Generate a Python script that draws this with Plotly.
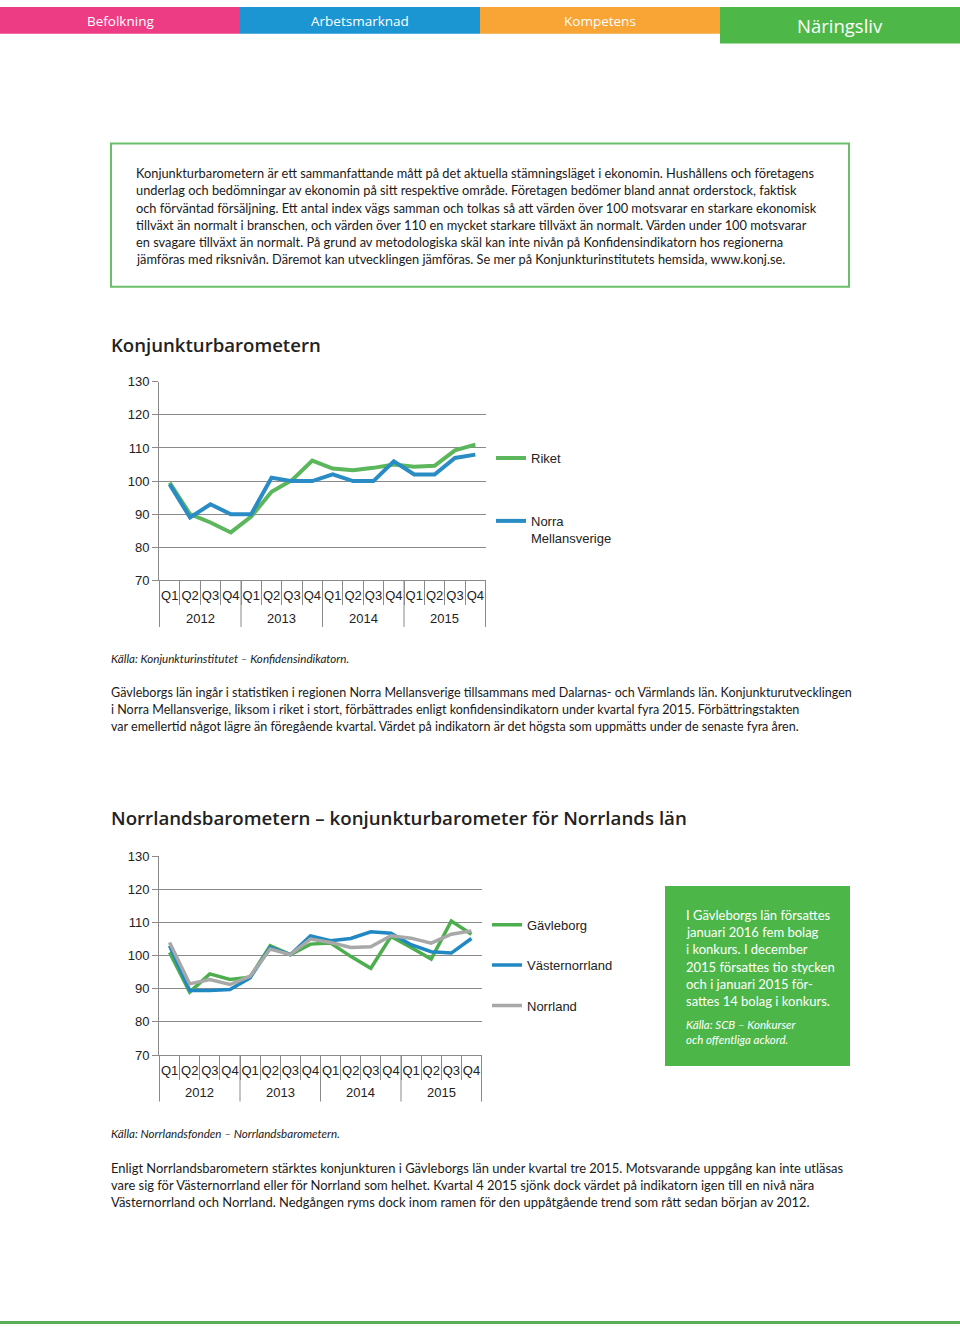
import plotly.graph_objects as go

W, H = 960, 1332

# ---------------- data ----------------
years = ["2012", "2013", "2014", "2015"]
quarters = ["Q1", "Q2", "Q3", "Q4"]

riket = [99.5, 90, 87.5, 84.5, 89.3, 96.8, 100.3, 106.2, 103.8, 103.3, 104, 105, 104.3, 104.6, 109.3, 111]
norra_mellansverige = [99, 89, 93, 90, 90, 101, 100, 100, 102, 100, 100, 106, 102, 102, 107, 108]

gavleborg = [101, 89, 94.5, 92.8, 93.5, 103, 100.3, 103.5, 103.8, 99.8, 96.2, 105.8, 102.5, 99, 110.5, 106.5]
vasternorrland = [103, 89.5, 89.5, 89.8, 93.3, 102.5, 100.3, 106, 104.5, 105.2, 107.2, 106.8, 103.3, 101.2, 100.8, 105.2]
norrland = [104, 91.5, 92.8, 91.3, 93.8, 102, 100.3, 105, 104, 102.5, 102.7, 106, 105.3, 103.8, 106.5, 107.5]

y_ticks = [70, 80, 90, 100, 110, 120, 130]

# category keys (one per quarter) and the text shown under each
x_keys = [f"{y} {q}" for y in years for q in quarters]
x_text = [q for _ in years for q in quarters]
nq = len(quarters)

GREEN = "#5cb65c"
BLUE = "#2a8cc4"
GRAY = "#a8a8a8"
GRID = "#8a8a8a"
CHART_FONT = "Liberation Sans, Arial, sans-serif"
TEXT_FONT = "Lato, Open Sans, sans-serif"


def px(x):
    return x / W


def py(y):
    return 1 - y / H


fig = go.Figure()

# chart 1
fig.add_trace(go.Scatter(x=x_keys, y=riket, mode="lines", name="Riket",
                         line=dict(color=GREEN, width=4), xaxis="x", yaxis="y", legend="legend"))
fig.add_trace(go.Scatter(x=x_keys, y=norra_mellansverige, mode="lines", name="Norra<br>Mellansverige",
                         line=dict(color=BLUE, width=4), xaxis="x", yaxis="y", legend="legend"))
# chart 2
fig.add_trace(go.Scatter(x=x_keys, y=gavleborg, mode="lines", name="Gävleborg",
                         line=dict(color="#4cae4c", width=3.5), xaxis="x2", yaxis="y2", legend="legend2"))
fig.add_trace(go.Scatter(x=x_keys, y=vasternorrland, mode="lines", name="Västernorrland",
                         line=dict(color="#2088c2", width=3.5), xaxis="x2", yaxis="y2", legend="legend2"))
fig.add_trace(go.Scatter(x=x_keys, y=norrland, mode="lines", name="Norrland",
                         line=dict(color=GRAY, width=3.5), xaxis="x2", yaxis="y2", legend="legend2"))


def xaxis_cfg(x0, x1, anchor):
    return dict(domain=[px(x0), px(x1)], type="category", anchor=anchor,
                categoryorder="array", categoryarray=x_keys,
                tickmode="array", tickvals=x_keys, ticktext=x_text,
                showline=True, linecolor=GRID, linewidth=1,
                showgrid=False, ticks="outside", tickson="boundaries", ticklen=24,
                tickcolor=GRID, tickangle=0, ticklabelstandoff=3,
                tickfont=dict(family=CHART_FONT, size=13, color="#222"), fixedrange=True)


def yaxis_cfg(y_top, y_bot, anchor):
    return dict(domain=[py(y_bot), py(y_top)], range=[70, 130], anchor=anchor,
                tickvals=y_ticks, showgrid=True, gridcolor=GRID, gridwidth=1,
                showline=True, linecolor=GRID, linewidth=1, zeroline=False,
                ticks="outside", ticklen=6, tickcolor=GRID,
                tickfont=dict(family=CHART_FONT, size=13, color="#222"), fixedrange=True)


shapes = []
annotations = []

# year row under each chart: dividers at year boundaries and year labels centred on each year,
# both placed on the category axis scale
for xref, ytop, ybot, ylab in [("x", 580, 627, 618), ("x2", 1060, 1107, 1098)]:
    for i in range(len(years) + 1):
        shapes.append(dict(type="line", xref=xref, yref="paper", x0=i * nq - 0.5, x1=i * nq - 0.5,
                           y0=py(ytop), y1=py(ybot), line=dict(color=GRID, width=1)))
    for i, yr in enumerate(years):
        annotations.append(dict(text=yr, xref=xref, yref="paper", x=i * nq + (nq - 1) / 2, y=py(ylab),
                                xanchor="center", yanchor="middle", showarrow=False,
                                font=dict(family=CHART_FONT, size=13, color="#222")))

# header tabs
tabs = [("Befolkning", "#ee3c84", 0, 240, 27, 13.5),
        ("Arbetsmarknad", "#1b96d3", 240, 480, 27, 13.5),
        ("Kompetens", "#f8a536", 480, 720, 27, 13.5),
        ("Näringsliv", "#4db848", 720, 960, 37, 18.5)]
for label, col, x0, x1, h, fs in tabs:
    shapes.append(dict(type="rect", xref="paper", yref="paper", x0=px(x0), x1=px(x1), y0=py(h), y1=py(0),
                       fillcolor=col, line=dict(width=0), layer="below"))
    annotations.append(dict(text=label, xref="paper", yref="paper", x=px((x0 + x1) / 2), y=py(h / 2 + 0.5),
                            xanchor="center", yanchor="middle", showarrow=False,
                            font=dict(family="Open Sans, sans-serif", size=fs, color="white")))

# intro box
shapes.append(dict(type="rect", xref="paper", yref="paper", x0=px(111), x1=px(849), y0=py(283), y1=py(138),
                   line=dict(color="#6cbf6a", width=2), fillcolor="rgba(0,0,0,0)"))
intro = [
    "Konjunkturbarometern är ett sammanfattande mått på det aktuella stämningsläget i ekonomin. Hushållens och företagens",
    "underlag och bedömningar av ekonomin på sitt respektive område. Företagen bedömer bland annat orderstock, faktisk",
    "och förväntad försäljning. Ett antal index vägs samman och tolkas så att värden över 100 motsvarar en starkare ekonomisk",
    "tillväxt än normalt i branschen, och värden över 110 en mycket starkare tillväxt än normalt. Värden under 100 motsvarar",
    "en svagare tillväxt än normalt. På grund av metodologiska skäl kan inte nivån på Konfidensindikatorn hos regionerna",
    "jämföras med riksnivån. Däremot kan utvecklingen jämföras. Se mer på Konjunkturinstitutets hemsida, www.konj.se.",
]
for i, line in enumerate(intro):
    annotations.append(dict(text=line, xref="paper", yref="paper", x=px(134), y=py(168 + i * 17.4),
                            xanchor="left", yanchor="middle", showarrow=False,
                            font=dict(family=TEXT_FONT, size=12.8, color="#1a1a1a")))
# titles
annotations.append(dict(text="Konjunkturbarometern", xref="paper", yref="paper", x=px(109), y=py(341),
                        xanchor="left", yanchor="middle", showarrow=False,
                        font=dict(family="Open Sans, sans-serif", size=18.6, color="#222", weight=600)))
annotations.append(dict(text="Norrlandsbarometern – konjunkturbarometer för Norrlands län", xref="paper",
                        yref="paper", x=px(109), y=py(820), xanchor="left", yanchor="middle", showarrow=False,
                        font=dict(family="Open Sans, sans-serif", size=18.7, color="#222", weight=600)))

# sources
annotations.append(dict(text="<i>Källa: Konjunkturinstitutet – Konfidensindikatorn.</i>", xref="paper", yref="paper",
                        x=px(109), y=py(659), xanchor="left", yanchor="middle", showarrow=False,
                        font=dict(family=TEXT_FONT, size=11.6, color="#1a1a1a")))
annotations.append(dict(text="<i>Källa: Norrlandsfonden – Norrlandsbarometern.</i>", xref="paper", yref="paper",
                        x=px(109), y=py(1139), xanchor="left", yanchor="middle", showarrow=False,
                        font=dict(family=TEXT_FONT, size=11.6, color="#1a1a1a")))

body1 = [
    "Gävleborgs län ingår i statistiken i regionen Norra Mellansverige tillsammans med Dalarnas- och Värmlands län. Konjunkturutvecklingen",
    "i Norra Mellansverige, liksom i riket i stort, förbättrades enligt konfidensindikatorn under kvartal fyra 2015. Förbättringstakten",
    "var emellertid något lägre än föregående kvartal. Värdet på indikatorn är det högsta som uppmätts under de senaste fyra åren.",
]
for i, line in enumerate(body1):
    annotations.append(dict(text=line, xref="paper", yref="paper", x=px(109), y=py(693 + i * 17.5),
                            xanchor="left", yanchor="middle", showarrow=False,
                            font=dict(family=TEXT_FONT, size=12.55, color="#1a1a1a")))
body2 = [
    "Enligt Norrlandsbarometern stärktes konjunkturen i Gävleborgs län under kvartal tre 2015. Motsvarande uppgång kan inte utläsas",
    "vare sig för Västernorrland eller för Norrland som helhet. Kvartal 4 2015 sjönk dock värdet på indikatorn igen till en nivå nära",
    "Västernorrland och Norrland. Nedgången ryms dock inom ramen för den uppåtgående trend som rått sedan början av 2012.",
]
for i, line in enumerate(body2):
    annotations.append(dict(text=line, xref="paper", yref="paper", x=px(109), y=py(1174 + i * 17.3),
                            xanchor="left", yanchor="middle", showarrow=False,
                            font=dict(family=TEXT_FONT, size=12.95, color="#1a1a1a")))

# green info box
shapes.append(dict(type="rect", xref="paper", yref="paper", x0=px(665), x1=px(850), y0=py(1071), y1=py(889),
                   fillcolor="#4cb748", line=dict(width=0)))
box_lines = ["I Gävleborgs län försattes", "januari 2016 fem bolag", "i konkurs. I december",
             "2015 försattes tio stycken", "och i januari 2015 för-", "sattes 14 bolag i konkurs."]
for i, line in enumerate(box_lines):
    annotations.append(dict(text=line, xref="paper", yref="paper", x=px(684), y=py(918 + i * 17.5),
                            xanchor="left", yanchor="middle", showarrow=False,
                            font=dict(family=TEXT_FONT, size=13, color="white")))
for i, line in enumerate(["Källa: SCB – Konkurser", "och offentliga ackord."]):
    annotations.append(dict(text="<i>" + line + "</i>", xref="paper", yref="paper", x=px(684), y=py(1029 + i * 15.5),
                            xanchor="left", yanchor="middle", showarrow=False,
                            font=dict(family=TEXT_FONT, size=11.5, color="white")))

# bottom rule
shapes.append(dict(type="rect", xref="paper", yref="paper", x0=0, x1=1, y0=0, y1=py(1329),
                   fillcolor="#5aae55", line=dict(width=0)))

fig.update_layout(
    width=W, height=H, margin=dict(l=0, r=0, t=0, b=0),
    paper_bgcolor="white", plot_bgcolor="white",
    xaxis=xaxis_cfg(159, 486, "y"), yaxis=yaxis_cfg(379, 580, "x"),
    xaxis2=xaxis_cfg(159, 482, "y2"), yaxis2=yaxis_cfg(859, 1060, "x2"),
    legend=dict(x=px(491), y=py(441), xanchor="left", yanchor="top", bgcolor="rgba(0,0,0,0)",
                font=dict(family=CHART_FONT, size=13, color="#222"), tracegroupgap=43,
                traceorder="grouped", valign="top", itemwidth=30),
    legend2=dict(x=px(487), y=py(913), xanchor="left", yanchor="top", bgcolor="rgba(0,0,0,0)",
                 font=dict(family=CHART_FONT, size=13, color="#222"), tracegroupgap=20.5,
                 traceorder="grouped", valign="top", itemwidth=30),
    shapes=shapes, annotations=annotations, showlegend=True,
)
for i, tr in enumerate(fig.data):
    tr.legendgroup = f"g{i}"

post = ("document.documentElement.style.margin='0';document.documentElement.style.overflow='hidden';"
        "document.body.style.margin='0';document.body.style.padding='0';document.body.style.overflow='hidden';"
        "var gd=document.getElementById('{plot_id}');gd.style.position='fixed';"
        "gd.style.left='0px';gd.style.top='0px';gd.style.margin='0';")
fig.write_html("out.html", post_script=post, config={"displayModeBar": False})
